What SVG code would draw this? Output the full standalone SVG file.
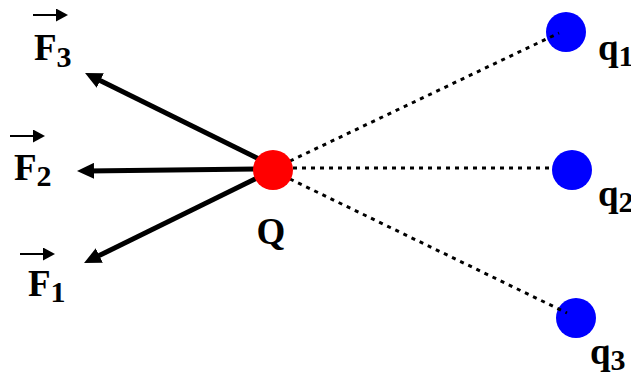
<svg xmlns="http://www.w3.org/2000/svg" width="631" height="375" viewBox="0 0 631 375">
<style>
.lbl{font-family:"Liberation Serif","Times New Roman",serif;font-weight:bold;font-size:37px;fill:#000}
.sub{font-size:30px}
.force{stroke:#000;stroke-width:5;fill:none}
.dot{stroke:#000;stroke-width:3;stroke-dasharray:4 5;fill:none}
.vec{stroke:#000;stroke-width:2;fill:none}
</style>
<defs>
<marker id="ah" markerUnits="userSpaceOnUse" markerWidth="17" markerHeight="16" refX="7" refY="8" orient="auto" viewBox="0 0 17 16">
<path d="M0,0 L17,8 L0,16 z" fill="#000"/>
</marker>
<marker id="sh" markerUnits="userSpaceOnUse" markerWidth="12" markerHeight="13" refX="4" refY="6.5" orient="auto" viewBox="0 0 12 13">
<path d="M0,0 L12,6.5 L0,13 z" fill="#000"/>
</marker>
</defs>
<g id="q1"><circle cx="566" cy="32" r="20" fill="#0000FF"/><text class="lbl" x="598" y="60">q<tspan class="sub" dy="6">1</tspan></text></g>
<g id="q2"><circle cx="572" cy="170" r="20" fill="#0000FF"/><text class="lbl" x="598" y="206">q<tspan class="sub" dy="6">2</tspan></text></g>
<g id="q3"><circle cx="576" cy="318" r="20" fill="#0000FF"/><text class="lbl" x="590" y="364">q<tspan class="sub" dy="6">3</tspan></text></g>
<g id="connectors">
<line class="dot" x1="290" y1="161" x2="559" y2="33"/>
<line class="dot" x1="293" y1="168" x2="552" y2="168"/>
<line class="dot" x1="290" y1="179" x2="567" y2="313"/>
<line class="force" x1="265" y1="162" x2="94" y2="77.4" marker-end="url(#ah)"/>
<line class="force" x1="265" y1="169" x2="87" y2="170.9" marker-end="url(#ah)"/>
<line class="force" x1="265" y1="174" x2="93" y2="258.6" marker-end="url(#ah)"/>
</g>
<g id="Q"><circle cx="273" cy="170" r="20" fill="#FF0000"/><text class="lbl" x="271" y="244" text-anchor="middle">Q</text></g>
<g id="F3"><line class="vec" x1="33" y1="15" x2="60" y2="15" marker-end="url(#sh)"/><text class="lbl" x="34" y="60">F<tspan class="sub" dy="7">3</tspan></text></g>
<g id="F2"><line class="vec" x1="10" y1="136" x2="37" y2="136" marker-end="url(#sh)"/><text class="lbl" x="14" y="180">F<tspan class="sub" dy="6">2</tspan></text></g>
<g id="F1"><line class="vec" x1="20" y1="254" x2="47" y2="254" marker-end="url(#sh)"/><text class="lbl" x="28" y="296">F<tspan class="sub" dy="6">1</tspan></text></g>
</svg>
